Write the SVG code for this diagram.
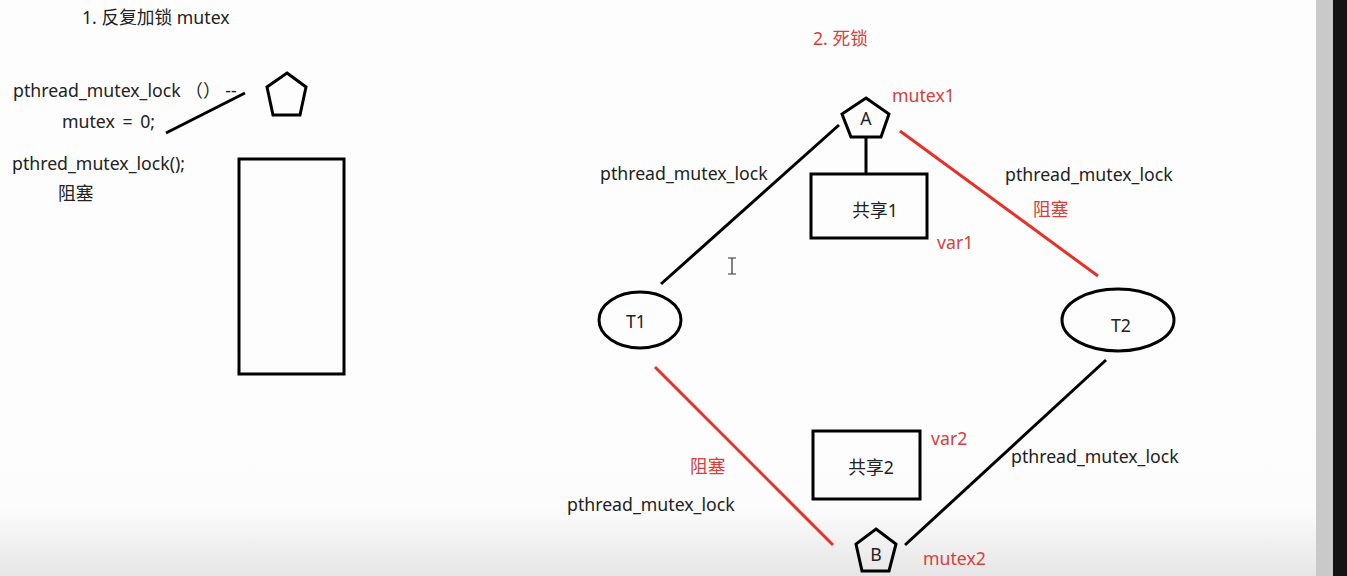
<svg xmlns="http://www.w3.org/2000/svg" width="1347" height="576" viewBox="0 0 1347 576">
<style>
text{font-family:"Noto Sans","Noto Sans CJK SC",sans-serif;font-size:17.7px;fill:#222}
.r{fill:#d8403a}
.shape{fill:none;stroke:#000;stroke-width:3}
.bl{stroke:#000;stroke-width:3;fill:none}
.rd{stroke:#e8302a;stroke-width:3;fill:none}
.c{text-anchor:middle}
</style>
<defs>
<linearGradient id="bg" x1="0" y1="0" x2="0" y2="1">
<stop offset="0" stop-color="#fdfdfd"/>
<stop offset="0.88" stop-color="#fcfcfc"/>
<stop offset="1" stop-color="#e6e6e6"/>
</linearGradient>
</defs>
<rect x="0" y="0" width="1347" height="576" fill="url(#bg)"/>
<rect x="1316" y="0" width="17" height="576" fill="#c9c9c9"/>
<rect x="1333" y="0" width="14" height="576" fill="#141414"/>

<g id="section1">
<text x="82" y="24">1. 反复加锁 mutex</text>
<text x="13" y="97">pthread_mutex_lock （） --</text>
<text x="62" y="128" word-spacing="3">mutex = 0;</text>
<text x="12" y="170">pthred_mutex_lock();</text>
<text x="58" y="200">阻塞</text>
</g>
<g id="lock-left">
<polygon class="shape" points="287,73 306,87 300,115 273,115 267,87"/>
</g>
<g id="rect-left">
<rect class="shape" x="239" y="159" width="105" height="215"/>
</g>

<g id="title2"><text class="r" x="813" y="45">2. 死锁</text></g>

<g id="mutexA">
<polygon class="shape" points="866,98 889,114 881,137 851,137 842,114"/>
<text class="c" x="866" y="125">A</text>
<text class="r" x="892" y="102">mutex1</text>
</g>
<g id="share1">
<rect class="shape" x="811" y="174" width="116" height="64"/>
<text class="c" x="875" y="217">共享1</text>
<text class="r" x="937" y="249">var1</text>
</g>
<g id="T1">
<ellipse class="shape" cx="640" cy="320" rx="41" ry="28"/>
<text class="c" x="636" y="328">T1</text>
</g>
<g id="T2">
<ellipse class="shape" cx="1118" cy="320" rx="56" ry="31"/>
<text class="c" x="1121" y="332">T2</text>
</g>
<g id="share2">
<rect class="shape" x="813" y="431" width="107" height="68"/>
<text class="c" x="871" y="474">共享2</text>
<text class="r" x="931" y="445">var2</text>
</g>
<g id="mutexB">
<polygon class="shape" points="876,529 896,544 889,571 862,571 856,544"/>
<text class="c" x="876" y="561">B</text>
<text class="r" x="923" y="565">mutex2</text>
</g>

<g id="connectors">
<line class="bl" x1="166" y1="133" x2="245" y2="93"/>
<line class="bl" x1="866" y1="137" x2="866" y2="174"/>
<line class="bl" x1="839" y1="125" x2="661" y2="284"/>
<line class="rd" x1="900" y1="131" x2="1098" y2="276"/>
<line class="rd" x1="655" y1="367" x2="833" y2="545"/>
<line class="bl" x1="1106" y1="360" x2="905" y2="545"/>
<text x="600" y="180">pthread_mutex_lock</text>
<text x="1005" y="181">pthread_mutex_lock</text>
<text class="r" x="1033" y="216">阻塞</text>
<text class="r" x="690" y="473">阻塞</text>
<text x="567" y="511">pthread_mutex_lock</text>
<text x="1011" y="463">pthread_mutex_lock</text>
</g>
<path d="M728,258 h8 M732,258 v16 M728,274 h8" stroke="#333" stroke-width="1.2" fill="none"/>
</svg>
